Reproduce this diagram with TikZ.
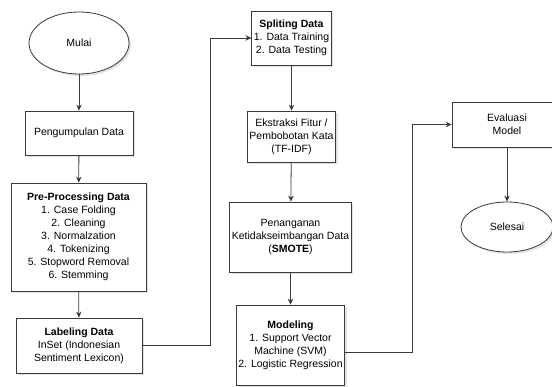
\documentclass[tikz,border=0pt]{standalone}
\usepackage{fontspec}
\setmainfont{Liberation Sans}
\usetikzlibrary{shapes.geometric,arrows.meta,shadows,positioning}
\definecolor{ln}{HTML}{3A3A3A}
\tikzset{
  base/.style={draw=ln, line width=0.8pt, fill=white, align=center, inner sep=2pt,
    font=\fontsize{10.5}{13}\selectfont,
    drop shadow={shadow xshift=2pt, shadow yshift=-2pt, opacity=0.18, fill=black!60}},
  box/.style={base, rectangle},
  oval/.style={base, ellipse},
  conn/.style={draw=ln, line width=0.8pt, -{Stealth[length=6pt,width=5.5pt]}}
}
\begin{document}
\begin{tikzpicture}[x=1pt,y=-1pt]
\useasboundingbox (0,0) rectangle (552,387);
\node[oval, minimum width=100pt, minimum height=62pt] (mulai) at (79,43) {Mulai};
\node[box, minimum width=108pt, minimum height=44pt] (peng) at (79,133) {Pengumpulan Data};
\node[box, minimum width=135pt, minimum height=108pt] (pre) at (78.5,237) {\textbf{Pre-Processing Data}\\1. Case Folding\\2. Cleaning\\3. Normalzation\\4. Tokenizing\\5. Stopword Removal\\6. Stemming};
\node[box, minimum width=126pt, minimum height=55pt] (label) at (79,345.5) {\textbf{Labeling Data}\\InSet (Indonesian\\Sentiment Lexicon)};
\node[box, minimum width=77pt, minimum height=54pt] (split) at (291.5,38) {\textbf{Spliting Data}\\1. Data Training\\2. Data Testing};
\node[box, minimum width=73pt, minimum height=51pt] (ekstr) at (291.5,136.5) {Ekstraksi Fitur /\\Pembobotan Kata\\(TF-IDF)};
\node[box, minimum width=91pt, minimum height=70pt] (penang) at (290.5,237) {Penanganan\\Ketidakseimbangan Data\\(\textbf{SMOTE})};
\node[box, minimum width=91pt, minimum height=80pt] (model) at (290.5,345) {\textbf{Modeling}\\1. Support Vector\\Machine (SVM)\\2. Logistic Regression};
\node[box, minimum width=110pt, minimum height=45pt] (eval) at (507,124.5) {Evaluasi\\Model};
\node[oval, minimum width=92pt, minimum height=50pt] (selesai) at (507,227) {Selesai};

\coordinate (c1) at (210,345.5);
\coordinate (c2) at (210,38);
\coordinate (m1) at ([yshift=-7pt]model.east);
\coordinate (c3) at (412,352);
\coordinate (c4) at (412,124.5);

\draw[conn] (mulai) -- (peng);
\draw[conn] (peng) -- (pre);
\draw[conn] (pre) -- (label);
\draw[conn] (label.east) -- (c1) -- (c2) -- (split.west);
\draw[conn] (split) -- (ekstr);
\draw[conn] (ekstr) -- (penang);
\draw[conn] (penang) -- (model);
\draw[conn] (m1) -- (c3) -- (c4) -- (eval.west);
\draw[conn] (eval) -- (selesai);
\end{tikzpicture}
\end{document}
